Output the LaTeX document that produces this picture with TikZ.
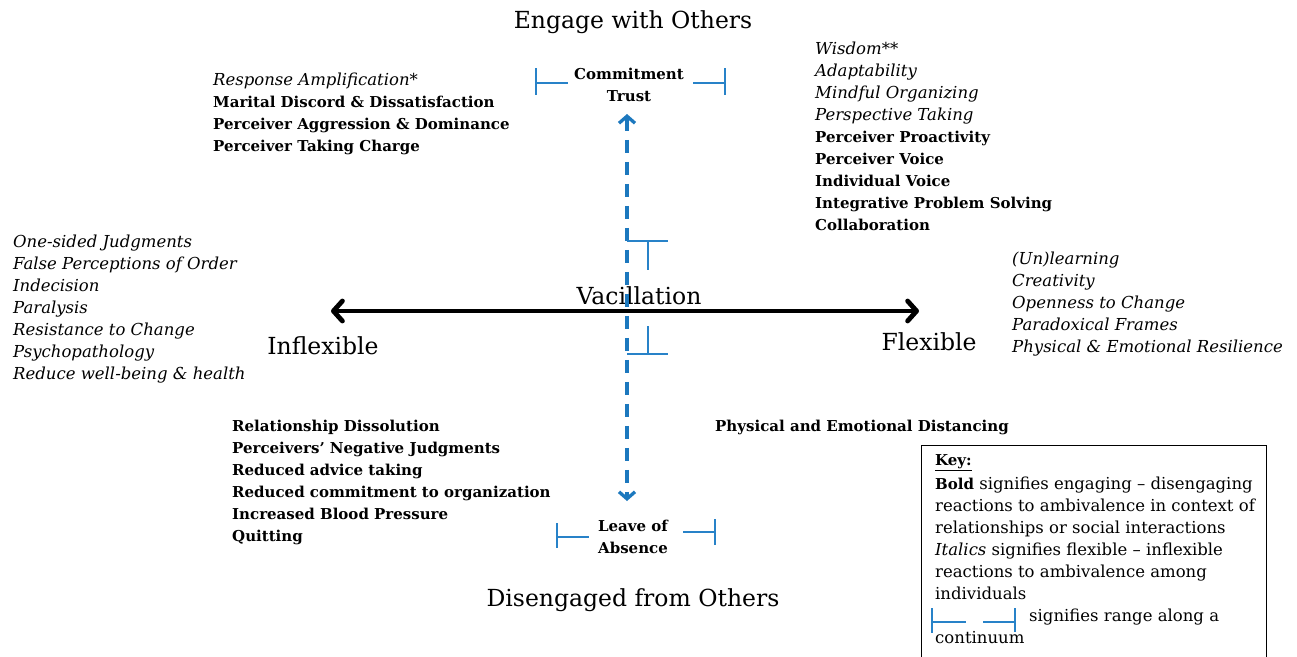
\documentclass[tikz,border=0pt]{standalone}
\usepackage{fontspec}
\setmainfont{DejaVu Serif}
\usetikzlibrary{arrows.meta}
\definecolor{rangeblue}{RGB}{40,130,200}
\definecolor{axisblue}{RGB}{28,120,190}
% line styles for the reaction lists
\newcommand{\itemit}{\fontsize{16.5}{22}\selectfont\itshape}
\newcommand{\itembf}{\fontsize{15}{22}\selectfont\bfseries}
\tikzset{
  body/.style={font=\fontsize{16.5}{22}\selectfont, inner sep=0pt, align=left, anchor=north west},
  heading/.style={font=\fontsize{23.5}{28}\selectfont, inner sep=0pt},
  pole/.style={font=\fontsize{15}{22}\selectfont\bfseries, inner sep=0pt, align=center},
  rangemark/.style={draw=rangeblue, line width=1.1pt},
  mainaxis/.style={line width=4.8pt, line cap=round, {Straight Barb[round,length=9pt,width=20pt]}-{Straight Barb[round,length=9pt,width=20pt]}},
  socialaxis/.style={draw=axisblue, line width=3.3pt, dash pattern=on 13pt off 9pt,
    {Straight Barb[length=7pt,width=16pt]}-{Straight Barb[length=7pt,width=16pt]}},
}
\begin{document}
\begin{tikzpicture}[x=1pt,y=-1pt]
\useasboundingbox (0,0) rectangle (1297,656);

% axis titles
\node[heading] (engage) at (633,22) {Engage with Others};
\node[heading] (disengage) at (633,600) {Disengaged from Others};
\node[heading] (vacil) at (639,296) {Vacillation};
\node[heading] (inflex) at (323,346) {Inflexible};
\node[heading] (flex) at (929,342) {Flexible};

% poles of the vertical axis
\node[pole] (commit) at (629,85) {Commitment\\Trust};
\node[pole] (leave) at (633,537) {Leave of\\Absence};

% axes
\coordinate (hleft) at (331,311);
\coordinate (hright) at (919,311);
\draw[mainaxis] (hleft) -- (hright);
\coordinate (vtop) at (627,114);
\coordinate (vbot) at (627,501);
\draw[socialaxis] (vtop) -- (vbot);

% range markers around the poles
\draw[rangemark] (536,68) -- (536,95) (536,83) -- (568,83);
\draw[rangemark] (693,83) -- (725,83) (725,68) -- (725,95);
\draw[rangemark] (557,523) -- (557,548) (557,537) -- (589,537);
\draw[rangemark] (683,532) -- (715,532) (715,519) -- (715,545);
\draw[rangemark] (627,241) -- (668,241) (648,241) -- (648,270);
\draw[rangemark] (627,354) -- (668,354) (648,326) -- (648,354);

% reaction lists
\node[body] (topleft) at (213,73) {\itemit Response Amplification*\\
  \itembf Marital Discord \& Dissatisfaction\\
  \itembf Perceiver Aggression \& Dominance\\
  \itembf Perceiver Taking Charge};
\node[body] (topright) at (815,42) {\itemit Wisdom**\\
  \itemit Adaptability\\
  \itemit Mindful Organizing\\
  \itemit Perspective Taking\\
  \itembf Perceiver Proactivity\\
  \itembf Perceiver Voice\\
  \itembf Individual Voice\\
  \itembf Integrative Problem Solving\\
  \itembf Collaboration};
\node[body] (left) at (13,235) {\itemit One-sided Judgments\\
  \itemit False Perceptions of Order\\
  \itemit Indecision\\
  \itemit Paralysis\\
  \itemit Resistance to Change\\
  \itemit Psychopathology\\
  \itemit Reduce well-being \& health};
\node[body] (right) at (1012,252) {\itemit (Un)learning\\
  \itemit Creativity\\
  \itemit Openness to Change\\
  \itemit Paradoxical Frames\\
  \itemit Physical \& Emotional Resilience};
\node[body] (bottomleft) at (232,420) {\itembf Relationship Dissolution\\
  \itembf Perceivers' Negative Judgments\\
  \itembf Reduced advice taking\\
  \itembf Reduced commitment to organization\\
  \itembf Increased Blood Pressure\\
  \itembf Quitting};
\node[body] (bottomright) at (715,420) {\itembf Physical and Emotional Distancing};

% key
\draw[line width=0.8pt] (921,664) -- (921,445) -- (1266,445) -- (1266,664);
\node[body] (key) at (935,454) {\itembf\underline{Key:}\\[2pt]
  \textbf{\fontsize{15}{22}\selectfont Bold} signifies engaging -- disengaging\\
  reactions to ambivalence in context of\\
  relationships or social interactions\\
  \textit{Italics} signifies flexible -- inflexible\\
  reactions to ambivalence among\\
  individuals\\
  \hspace{94pt}signifies range along a\\
  continuum};
\draw[rangemark] (932,608) -- (932,633) (932,622) -- (966,622);
\draw[rangemark] (983,622) -- (1015,622) (1015,608) -- (1015,632);
\end{tikzpicture}
\end{document}
